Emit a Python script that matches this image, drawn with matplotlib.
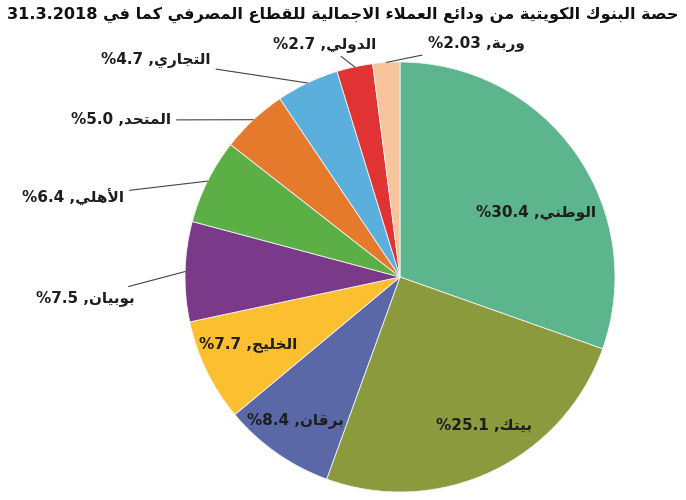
import numpy as np
from matplotlib import pyplot as plt

# data
title_ar = 'حصة البنوك الكويتية من ودائع العملاء الاجمالية للقطاع المصرفي كما في'
title_date = '31.3.2018'
banks = ['الوطني', 'بيتك', 'برقان', 'الخليج', 'بوبيان', 'الأهلي', 'المتحد', 'التجاري', 'الدولي', 'وربة']
shares = [30.4, 25.1, 8.4, 7.7, 7.5, 6.4, 5.0, 4.7, 2.7, 2.03]
share_text = ['30.4', '25.1', '8.4', '7.7', '7.5', '6.4', '5.0', '4.7', '2.7', '2.03']
colours = ['#5db58d', '#8b9a3d', '#5b68a8', '#fbbf2f', '#7b3a89',
           '#5caf45', '#e5792c', '#5bafdc', '#e13333', '#f8c49b']

# label layout: (inside/outside, text x, text y from top, ha) in pixels
label_layout = [
    ('in', 536, 212, 'center'),
    ('in', 484, 425, 'center'),
    ('in', 295, 420, 'center'),
    ('in', 248, 344, 'center'),
    ('out', 36, 298, 'left'),
    ('out', 22, 197, 'left'),
    ('out', 71, 120, 'left'),
    ('out', 101, 60, 'left'),
    ('out', 325, 44, 'center'),
    ('out', 476, 44, 'center'),
]

# --- minimal arabic shaping (presentation forms + visual order) ---
DUAL = {'ئ': 0xFE89, 'ب': 0xFE8F, 'ت': 0xFE95, 'ث': 0xFE99, 'ج': 0xFE9D, 'ح': 0xFEA1,
        'خ': 0xFEA5, 'س': 0xFEB1, 'ش': 0xFEB5, 'ص': 0xFEB9, 'ض': 0xFEBD, 'ط': 0xFEC1,
        'ظ': 0xFEC5, 'ع': 0xFEC9, 'غ': 0xFECD, 'ف': 0xFED1, 'ق': 0xFED5, 'ك': 0xFED9,
        'ل': 0xFEDD, 'م': 0xFEE1, 'ن': 0xFEE5, 'ه': 0xFEE9, 'ي': 0xFEF1}
RIGHT = {'آ': 0xFE81, 'أ': 0xFE83, 'ؤ': 0xFE85, 'إ': 0xFE87, 'ا': 0xFE8D, 'ة': 0xFE93,
         'د': 0xFEA9, 'ذ': 0xFEAB, 'ر': 0xFEAD, 'ز': 0xFEAF, 'و': 0xFEED, 'ى': 0xFEEF}
LAMALEF = {'آ': 0xFEF5, 'أ': 0xFEF7, 'إ': 0xFEF9, 'ا': 0xFEFB}
NONJOIN = {'ء': 0xFE80}


def shape(s):
    tokens = []
    i = 0
    while i < len(s):
        if s[i] == 'ل' and i + 1 < len(s) and s[i + 1] in LAMALEF:
            tokens.append(('R', LAMALEF[s[i + 1]]))
            i += 2
            continue
        c = s[i]
        if c in DUAL:
            tokens.append(('D', DUAL[c]))
        elif c in RIGHT:
            tokens.append(('R', RIGHT[c]))
        elif c in NONJOIN:
            tokens.append(('U', NONJOIN[c]))
        else:
            tokens.append(('X', c))
        i += 1
    out = []
    for k, (kind, base) in enumerate(tokens):
        if kind == 'X':
            out.append(base)
            continue
        prev_j = k > 0 and tokens[k - 1][0] == 'D' and kind in 'DR'
        next_j = kind == 'D' and k + 1 < len(tokens) and tokens[k + 1][0] in 'DR'
        if kind == 'U':
            code = base
        elif prev_j and next_j:
            code = base + 3
        elif prev_j:
            code = base + 1
        elif next_j:
            code = base + 2
        else:
            code = base
        out.append(chr(code))
    return ''.join(reversed(out))


plt.rcParams['font.family'] = ['DejaVu Sans']

fig = plt.figure(figsize=[6.86, 5.0], dpi=100)
ax = fig.add_axes([0, 0, 1, 1])

cx, cy, r = 400, 223, 215
wedges, _ = ax.pie(shares, colors=colours, startangle=90, counterclock=False,
                   center=(cx, cy), radius=r,
                   wedgeprops=dict(edgecolor='#f4f4f4', linewidth=0.6))
ax.set_xlim(0, 686)
ax.set_ylim(0, 500)
ax.set_aspect('equal')
ax.axis('off')

for i, w in enumerate(wedges):
    mid = np.deg2rad((w.theta1 + w.theta2) / 2)
    dx, dy = np.cos(mid), np.sin(mid)
    label = '%' + share_text[i] + ' ,' + shape(banks[i])
    kind, tx, ty, ha = label_layout[i]
    if kind == 'in':
        ax.text(tx, 500 - ty, label, ha=ha, va='center',
                fontsize=11, fontweight='bold', color='#1e1e1e')
    else:
        ax.annotate(label, xy=(cx + dx * r, cy + dy * r), xytext=(tx, 500 - ty),
                    ha=ha, va='center', fontsize=11, fontweight='bold', color='#1e1e1e',
                    arrowprops=dict(arrowstyle='-', color='#444444', lw=0.8,
                                    shrinkA=2, shrinkB=0))

fig.text(0.5, 1 - 15 / 500, title_date + ' ' + shape(title_ar), ha='center', va='center',
         fontsize=11.6, fontweight='bold', color='#111111')

plt.savefig('out.png', dpi=100)
